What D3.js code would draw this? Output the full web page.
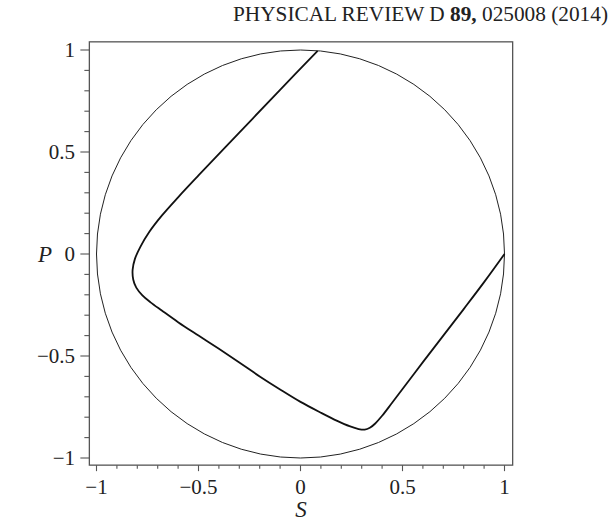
<!DOCTYPE html>
<html><head><meta charset="utf-8">
<script src="https://cdn.jsdelivr.net/npm/d3@7"></script>
<style>body{margin:0;background:#fff}svg{display:block}</style>
</head><body>
<script>
// Data
const curveS = [0.084, -0.10, -0.30, -0.50, -0.60, -0.68, -0.74, -0.785, -0.812, -0.823, -0.820, -0.805, -0.775, -0.735, -0.680, -0.600, -0.500, -0.400, -0.300, -0.200, -0.100, 0.000, 0.100, 0.180, 0.240, 0.285, 0.315, 0.340, 0.365, 0.400, 0.45, 0.60, 0.80, 0.90, 1.0];
const curveP = [0.996, 0.805, 0.595, 0.385, 0.278, 0.188, 0.110, 0.035, -0.025, -0.078, -0.125, -0.165, -0.203, -0.237, -0.277, -0.334, -0.400, -0.465, -0.532, -0.600, -0.664, -0.725, -0.778, -0.818, -0.844, -0.858, -0.861, -0.852, -0.832, -0.793, -0.728, -0.53, -0.27, -0.138, 0.0];
const circleRadius = [1];
const xTickLabels = ["\u22121", "\u22120.5", "0", "0.5", "1"];
const yTickLabels = ["\u22121", "\u22120.5", "0", "0.5", "1"];
const majorTicks = [-1, -0.5, 0, 0.5, 1];
const minorTicks = d3.range(-10, 11).map(d => d / 10);
const header = ["PHYSICAL REVIEW D ", "89,", " 025008 (2014)"];

(function () {
const W = 613, H = 524;
const svg = d3.select("body").append("svg").attr("width", W).attr("height", H);
const x = d3.scaleLinear().domain([-1, 1]).range([96.5, 504.5]);
const y = d3.scaleLinear().domain([-1, 1]).range([458, 50]);
const axisColor = "#555";
const serif = "'Liberation Serif', 'Times New Roman', serif";

// header
const ht = svg.append("text").attr("x", 608).attr("y", 21).attr("text-anchor", "end")
  .attr("font-family", serif).attr("font-size", 21.3).attr("fill", "#222");
header.forEach((t, i) => ht.append("tspan").text(t).attr("font-weight", i === 1 ? "bold" : "normal"));

const fL = x(-1.035), fR = x(1.04), fT = y(1.04), fB = y(-1.035);

// frame
svg.append("rect").attr("x", fL).attr("y", fT).attr("width", fR - fL).attr("height", fB - fT)
  .attr("fill", "none").attr("stroke", axisColor).attr("stroke-width", 1.3);

// ticks
const isMajor = v => majorTicks.some(m => Math.abs(m - v) < 1e-9);
svg.append("g").selectAll("line").data(minorTicks).join("line")
  .attr("x1", d => fL - (isMajor(d) ? 9 : 5)).attr("x2", fL)
  .attr("y1", d => y(d)).attr("y2", d => y(d))
  .attr("stroke", axisColor).attr("stroke-width", 1.1);
svg.append("g").selectAll("line").data(minorTicks).join("line")
  .attr("y1", fB).attr("y2", d => fB + (isMajor(d) ? 6 : 3.5))
  .attr("x1", d => x(d)).attr("x2", d => x(d))
  .attr("stroke", axisColor).attr("stroke-width", 1.1);

// tick labels
svg.append("g").selectAll("text").data(majorTicks).join("text")
  .attr("x", 75).attr("y", d => y(d)).attr("dy", "0.34em").attr("text-anchor", "end")
  .attr("font-family", serif).attr("font-size", 21).attr("fill", "#222")
  .text((d, i) => yTickLabels[i]);
svg.append("g").selectAll("text").data(majorTicks).join("text")
  .attr("x", d => x(d)).attr("y", 494).attr("text-anchor", "middle")
  .attr("font-family", serif).attr("font-size", 21).attr("fill", "#222")
  .text((d, i) => xTickLabels[i]);

// axis titles
svg.append("text").attr("x", 301).attr("y", 517).attr("text-anchor", "middle")
  .attr("font-family", serif).attr("font-style", "italic").attr("font-size", 23).attr("fill", "#222").text("S");
svg.append("text").attr("x", 45).attr("y", 262).attr("text-anchor", "middle")
  .attr("font-family", serif).attr("font-style", "italic").attr("font-size", 23).attr("fill", "#222").text("P");

// circle
svg.append("g").selectAll("circle").data(circleRadius).join("circle")
  .attr("cx", x(0)).attr("cy", y(0)).attr("r", d => x(d) - x(0))
  .attr("fill", "none").attr("stroke", "#222").attr("stroke-width", 1);

// curve
const pts = curveS.map((s, i) => [s, curveP[i]]);
svg.append("path").datum(pts)
  .attr("d", d3.line().x(d => x(d[0])).y(d => y(d[1])).curve(d3.curveCatmullRom.alpha(0.5)))
  .attr("fill", "none").attr("stroke", "#111").attr("stroke-width", 1.8);
})();
</script>
</body></html>
